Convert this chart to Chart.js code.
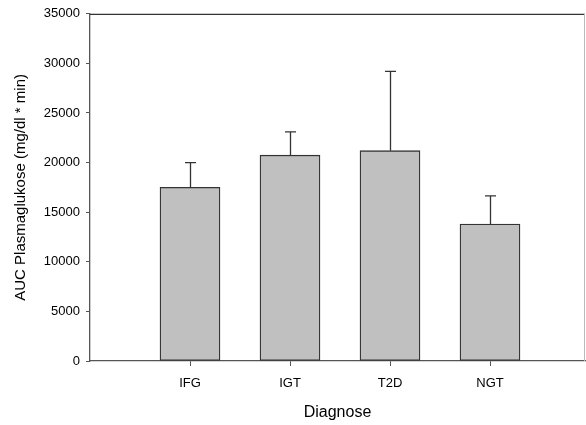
<!DOCTYPE html>
<html>
<head>
<meta charset="utf-8">
<script src="https://cdn.jsdelivr.net/npm/chart.js@4/dist/chart.umd.min.js"></script>
<style>
html,body{margin:0;padding:0;background:#fff;}
#c{display:block;}
</style>
</head>
<body>
<canvas id="c" width="586" height="425"></canvas>
<script>
const categories = ['IFG', 'IGT', 'T2D', 'NGT'];
const means = [17500, 20750, 21200, 13800];
const errorTops = [20000, 23100, 29200, 16650];
const yTicks = [0, 5000, 10000, 15000, 20000, 25000, 30000, 35000];

const points = categories.map((c, i) => ({ x: i + 1, y: means[i] }));

const axisColor = '#555555';
const textFont = "'Liberation Sans', Arial, sans-serif";

const errorBars = {
  id: 'errorBars',
  afterDatasetsDraw(chart) {
    const ctx = chart.ctx;
    const meta = chart.getDatasetMeta(0);
    const ys = chart.scales.y;
    ctx.save();
    ctx.strokeStyle = '#333333';
    ctx.lineWidth = 1.3;
    meta.data.forEach((bar, i) => {
      const x = Math.round(bar.x) + 0.5;
      const yTop = ys.getPixelForValue(errorTops[i]);
      ctx.beginPath();
      ctx.moveTo(x, bar.y);
      ctx.lineTo(x, yTop);
      ctx.moveTo(x - 5.5, yTop);
      ctx.lineTo(x + 5.5, yTop);
      ctx.stroke();
    });
    ctx.restore();
  }
};

const frame = {
  id: 'frame',
  afterDraw(chart) {
    const a = chart.chartArea;
    const ctx = chart.ctx;
    ctx.save();
    ctx.strokeStyle = '#333333';
    ctx.lineWidth = 1.3;
    ctx.beginPath();
    ctx.moveTo(a.left, a.top + 0.5);
    ctx.lineTo(a.right, a.top + 0.5);
    ctx.stroke();
    ctx.strokeStyle = '#bbbbbb';
    ctx.lineWidth = 1;
    ctx.beginPath();
    ctx.moveTo(a.right - 0.5, a.top);
    ctx.lineTo(a.right - 0.5, a.bottom);
    ctx.stroke();
    ctx.restore();
  }
};

new Chart(document.getElementById('c'), {
  type: 'bar',
  data: {
    datasets: [{
      data: points,
      backgroundColor: '#c0c0c0',
      borderColor: '#333333',
      borderWidth: 1.3,
      borderSkipped: false,
      barThickness: 60
    }]
  },
  options: {
    responsive: false,
    animation: false,
    devicePixelRatio: 1,
    layout: { padding: { top: 11, right: 1, left: 0, bottom: 0 } },
    plugins: { legend: { display: false }, tooltip: { enabled: false } },
    scales: {
      x: {
        type: 'linear',
        min: 0,
        max: 4.95,
        offset: false,
        afterFit(s) { s.height = 64; },
        ticks: {
          stepSize: 1,
          includeBounds: false,
          autoSkip: false,
          maxRotation: 0,
          padding: 10,
          color: '#000',
          font: { family: textFont, size: 13 },
          callback: (v) => (Number.isInteger(v) && v >= 1 && v <= categories.length) ? categories[v - 1] : ''
        },
        grid: {
          offset: false,
          drawOnChartArea: false,
          drawTicks: true,
          tickLength: 5,
          color: (ctx) => (ctx.tick && ctx.tick.value >= 1 && ctx.tick.value <= categories.length) ? axisColor : 'rgba(0,0,0,0)'
        },
        border: { display: true, color: axisColor, width: 1.3 },
        title: {
          display: true,
          text: 'Diagnose',
          color: '#000',
          font: { family: textFont, size: 16 },
          padding: { top: 0, bottom: 3 }
        }
      },
      y: {
        min: 0,
        max: 35000,
        afterFit(s) { s.width = 90; },
        afterBuildTicks(s) { s.ticks = yTicks.map(v => ({ value: v })); },
        ticks: {
          padding: 6,
          color: '#000',
          font: { family: textFont, size: 13 },
          callback: (v) => String(v)
        },
        grid: {
          drawOnChartArea: false,
          drawTicks: true,
          tickLength: 4,
          color: axisColor
        },
        border: { display: true, color: axisColor, width: 1.3 },
        title: {
          display: true,
          text: 'AUC Plasmaglukose (mg/dl * min)',
          color: '#000',
          font: { family: textFont, size: 15 },
          padding: { top: 12, bottom: 0 }
        }
      }
    }
  },
  plugins: [errorBars, frame]
});
</script>
</body>
</html>
